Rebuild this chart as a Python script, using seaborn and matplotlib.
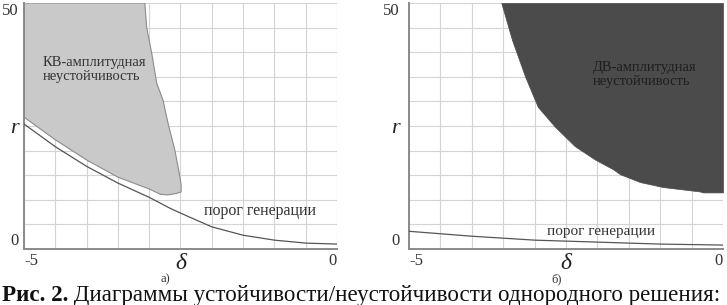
import matplotlib
matplotlib.use("Agg")
import numpy as np
import matplotlib.pyplot as plt
import seaborn as sns

# generation threshold, panel a) and b)
delta_thr_a = [-5, -4.5, -4, -3.5, -3, -2.67, -2.5, -2, -1.5, -1, -0.5, 0]
r_thr_a = [25.4, 20.8, 16.8, 13.4, 10.5, 8.3, 7.3, 4.5, 2.8, 1.8, 1.2, 1.0]
delta_thr_b = [-5, -4, -3, -2, -1, 0]
r_thr_b = [3.6, 2.6, 1.8, 1.4, 1.0, 0.8]

# outline of the short-wave (КВ) instability region
delta_kv = [-5, -3.07, -3.04, -2.96, -2.88, -2.78, -2.70, -2.59, -2.52, -2.49,
            -2.49, -2.56, -2.70, -2.82, -3.0, -3.5, -4.0, -4.5, -5]
r_kv = [50, 50, 45, 39.8, 33.7, 30.3, 25.6, 20.1, 15.4, 13.0,
        11.6, 11.3, 11.0, 11.1, 12.2, 14.6, 18.1, 22.2, 26.8]

# lower boundary of the long-wave (ДВ) instability region
delta_dv = [-3.53, -3.36, -3.15, -2.95, -2.68, -2.36, -2.04, -1.75, -1.64,
            -1.32, -0.96, -0.37, -0.32, 0]
r_dv = [50, 42.5, 35, 28.9, 24.9, 20.9, 18.2, 16.2, 15.2, 13.6, 12.6, 11.7,
        11.5, 11.5]

x_ticklabels = ['-5', '', '', '', '', 'δ', '', '', '', '', '0']
y_ticklabels = ['0', '', '', '', '', 'r', '', '', '', '', '50']

sns.set_style("white")
plt.rcParams['font.family'] = ['Liberation Serif', 'DejaVu Serif']

fig = plt.figure(figsize=(7.27, 3.05), dpi=100)
ax_a = fig.add_axes([24 / 727, 56 / 305, 313 / 727, 246 / 305])
ax_b = fig.add_axes([409 / 727, 56 / 305, 314 / 727, 246 / 305])


def style_axes(ax, ypad):
    ax.set_xlim(-5, 0)
    ax.set_ylim(0, 50)
    ax.set_xticks(np.arange(-5, 0.01, 0.5))
    ax.set_yticks(np.arange(0, 50.1, 5))
    ax.set_xticklabels(x_ticklabels)
    ax.set_yticklabels(y_ticklabels)
    ax.grid(True, color='#d4d4d4', lw=0.8)
    ax.set_axisbelow(True)
    for s in ['top', 'right']:
        ax.spines[s].set_visible(False)
    for s in ['left', 'bottom']:
        ax.spines[s].set_color('#8a8a8a')
        ax.spines[s].set_linewidth(1.4)
    ax.tick_params(direction='in', length=3, color='#8a8a8a', labelcolor='#333333',
                   labelsize=12)
    ax.tick_params(axis='x', pad=3)
    ax.tick_params(axis='y', pad=ypad)
    xl = ax.get_xticklabels()
    xl[0].set_ha('left')
    xl[-1].set_ha('right')
    xl[5].set_fontsize(17)
    xl[5].set_fontstyle('italic')
    xl[5].set_color('#222222')
    yl = ax.get_yticklabels()
    yl[0].set_va('bottom')
    yl[-1].set_va('top')
    yl[5].set_fontsize(16)
    yl[5].set_fontstyle('italic')
    yl[5].set_color('#222222')
    ax.set_xlabel('')
    ax.set_ylabel('')


# panel a)
ax_a.fill(delta_kv, r_kv, facecolor='#c9c9c9', edgecolor='#8c8c8c', lw=0.8, zorder=2)
sns.lineplot(x=delta_thr_a, y=r_thr_a, ax=ax_a, color='#555555', lw=0.9, zorder=3)
ax_a.text(-4.7, 36.5, 'КВ-амплитудная\nнеустойчивость', fontsize=10.5, color='#333333',
          va='center', ha='left', linespacing=1.1, zorder=4)
ax_a.text(-2.12, 7.7, 'порог генерации', fontsize=11.5, color='#333333',
          va='center', ha='left', zorder=4)
style_axes(ax_a, 4)

# panel b)
ax_b.fill_between(delta_dv, r_dv, 50, facecolor='#4b4b4b', edgecolor='#4b4b4b', lw=0.5,
                  zorder=2)
sns.lineplot(x=delta_thr_b, y=r_thr_b, ax=ax_b, color='#555555', lw=0.9, zorder=3)
ax_b.text(-2.07, 35.5, 'ДВ-амплитудная\nнеустойчивость', fontsize=10.5, color='#1e1e1e',
          va='center', ha='left', linespacing=1.1, zorder=4)
ax_b.text(-2.8, 3.6, 'порог генерации', fontsize=11, color='#333333',
          va='center', ha='left', zorder=4)
style_axes(ax_b, 7)

fig.text(165 / 727, 0.084, 'а)', fontsize=9, color='#333333', ha='center', va='center')
fig.text(557 / 727, 0.084, 'б)', fontsize=9, color='#333333', ha='center', va='center')

cap = fig.text(2 / 727, 0.013, 'Рис. 2.', fontsize=16.6, fontweight='bold', ha='left',
               va='baseline', color='#111111')
ax_a.annotate(' Диаграммы устойчивости/неустойчивости однородного решения:',
              xy=(1, 0), xycoords=cap, va='bottom', ha='left', fontsize=16.6,
              color='#111111', annotation_clip=False)

fig.savefig('out.png', dpi=100)
